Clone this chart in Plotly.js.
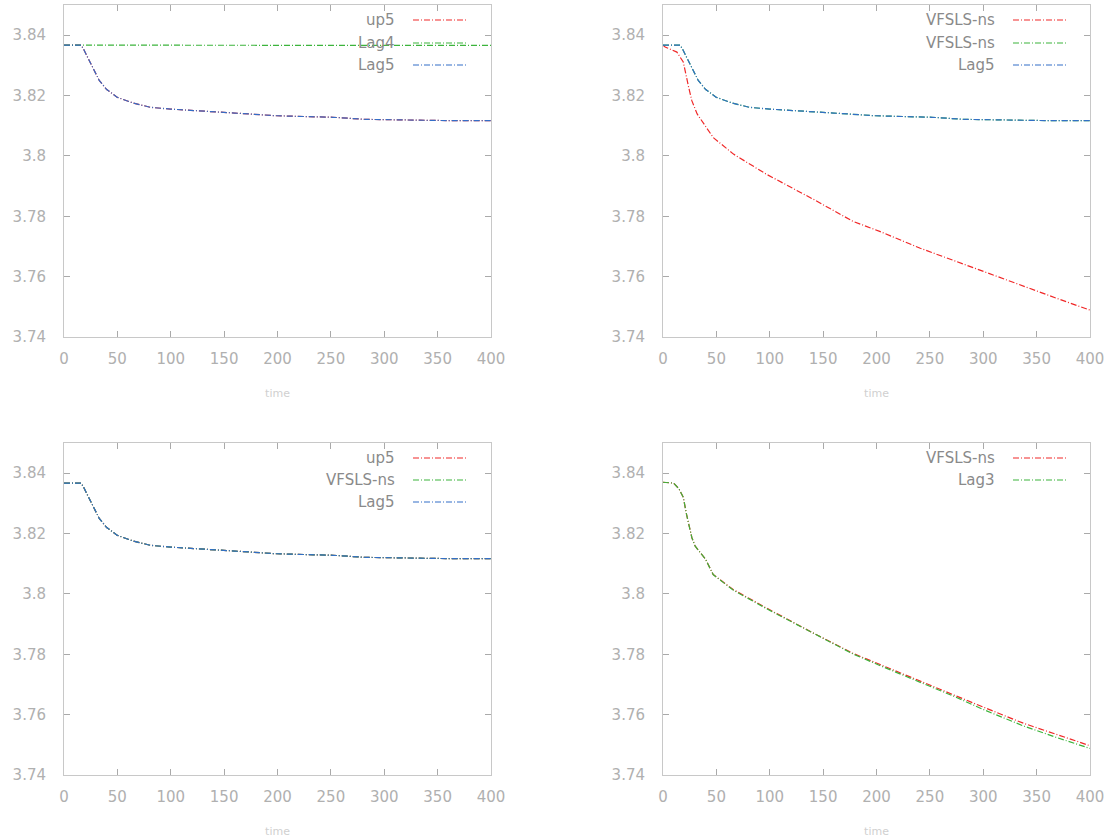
<!DOCTYPE html>
<html>
<head>
<meta charset="utf-8">
<script src="https://cdn.plot.ly/plotly-3.0.1.min.js"></script>
<style>html,body{margin:0;padding:0;background:#fff;}#chart{width:1112px;height:838px;}</style>
</head>
<body>
<div id="chart"></div>
<script>
// ---- data ----
const yTicks = [3.74, 3.76, 3.78, 3.8, 3.82, 3.84];
const yTickLabels = ["3.74", "3.76", "3.78", "3.8", "3.82", "3.84"];
const xTicks = [0, 50, 100, 150, 200, 250, 300, 350, 400];

// slow-converging curve (Lag5 / up5 / second VFSLS-ns)
const tSlow = [0, 16, 18, 23, 28, 33, 40, 50, 65, 81, 100, 128, 160, 199, 230, 252, 283, 320, 360, 400];
const vSlow = [3.8367, 3.8367, 3.8356, 3.8322, 3.8285, 3.825, 3.822, 3.8194, 3.8175, 3.8161, 3.8155, 3.815, 3.8142, 3.8133, 3.8130, 3.8128, 3.8121, 3.8118, 3.8117, 3.8117];

// flat curve in the first panel (Lag4)
const tFlat = [0, 100, 200, 300, 400];
const vFlat = [3.8367, 3.8367, 3.8367, 3.8366, 3.8366];

// fast-descending curve (VFSLS-ns, panel 2)
const tFast = [0, 2, 13, 19, 24, 27, 32, 41, 47, 66, 97, 141, 178, 203, 241, 275, 300, 338, 369, 400];
const vFast = [3.8367, 3.8361, 3.8344, 3.8311, 3.8228, 3.8183, 3.8139, 3.8094, 3.8061, 3.8006, 3.7939, 3.7856, 3.7783, 3.775, 3.7694, 3.765, 3.7617, 3.7567, 3.7528, 3.7489];

// panel 4: VFSLS-ns and Lag3
const tP4 = [0, 10, 15, 19, 22, 27, 30, 40, 47, 66, 97, 141, 178, 203, 241, 275, 300, 338, 369, 400];
const vP4Vfsls = [3.8370, 3.8367, 3.8348, 3.8320, 3.8264, 3.8187, 3.8159, 3.8114, 3.8064, 3.8014, 3.7953, 3.7870, 3.7803, 3.7766, 3.7711, 3.7662, 3.7625, 3.7571, 3.7534, 3.7497];
const vP4Lag3 = [3.8370, 3.8367, 3.8348, 3.8320, 3.8264, 3.8187, 3.8159, 3.8114, 3.8064, 3.8012, 3.7951, 3.7868, 3.7801, 3.7763, 3.7707, 3.7657, 3.7617, 3.7562, 3.7524, 3.7488];

const legendNames = [
  ["up5", "Lag4", "Lag5"],
  ["VFSLS-ns", "VFSLS-ns", "Lag5"],
  ["up5", "VFSLS-ns", "Lag5"],
  ["VFSLS-ns", "Lag3"]
];
const xTitle = "time";

// ---- styles ----
const RED = "rgb(240,40,40)", GREEN = "rgb(60,180,60)", BLUE = "rgb(50,110,200)";
const FONT = "DejaVu Sans, sans-serif";
const lineStyle = c => ({color: c, width: 1.2, dash: "6px,2px,1px,2px"});

function tr(x, y, c, xa, ya, name) {
  return {x: x, y: y, type: "scatter", mode: "lines", line: lineStyle(c), xaxis: xa, yaxis: ya, name: name, showlegend: false};
}

const data = [
  // panel 1
  tr(tSlow, vSlow, RED, "x", "y", legendNames[0][0]),
  tr(tFlat, vFlat, GREEN, "x", "y", legendNames[0][1]),
  tr(tSlow, vSlow, BLUE, "x", "y", legendNames[0][2]),
  // panel 2
  tr(tFast, vFast, RED, "x2", "y2", legendNames[1][0]),
  tr(tSlow, vSlow, GREEN, "x2", "y2", legendNames[1][1]),
  tr(tSlow, vSlow, BLUE, "x2", "y2", legendNames[1][2]),
  // panel 3
  tr(tSlow, vSlow, RED, "x3", "y3", legendNames[2][0]),
  tr(tSlow, vSlow, GREEN, "x3", "y3", legendNames[2][1]),
  tr(tSlow, vSlow, BLUE, "x3", "y3", legendNames[2][2]),
  // panel 4
  tr(tP4, vP4Vfsls, RED, "x4", "y4", legendNames[3][0]),
  tr(tP4, vP4Lag3, GREEN, "x4", "y4", legendNames[3][1])
];

const W = 1112, H = 838;
const px = v => v / W, py = v => 1 - v / H;
const colX = [[64, 491], [663, 1090]];
const rowY = [[5, 337], [443, 775]];

function xaxis(col, anchor) {
  return {
    domain: [px(colX[col][0]), px(colX[col][1])], anchor: anchor,
    range: [0, 400], tickvals: xTicks, ticks: "inside", ticklen: 6, tickcolor: "#aaa",
    showline: true, linecolor: "#c8c8c8", linewidth: 1, mirror: "ticks",
    showgrid: false, zeroline: false, ticklabelstandoff: 8,
    tickfont: {family: FONT, size: 15, color: "#b0b0b0"},
    title: {text: xTitle, font: {family: FONT, size: 11, color: "#d0d0d0"}, standoff: 22}
  };
}
function yaxis(row, anchor) {
  return {
    domain: [py(rowY[row][1]), py(rowY[row][0])], anchor: anchor,
    range: [3.74, 3.85], tickvals: yTicks, ticktext: yTickLabels,
    ticks: "inside", ticklen: 6, tickcolor: "#aaa",
    showline: true, linecolor: "#c8c8c8", linewidth: 1, mirror: "ticks",
    showgrid: false, zeroline: false, ticklabelstandoff: 14,
    tickfont: {family: FONT, size: 15, color: "#b0b0b0"}
  };
}

// gnuplot-style key: text right-aligned, sample line to its right
const annotations = [], shapes = [];
const keyCols = [397, 997];
const keyRows = [[20, 43, 65], [458, 480, 502]];
const colors = [[RED, GREEN, BLUE], [RED, GREEN, BLUE], [RED, GREEN, BLUE], [RED, GREEN]];
legendNames.forEach((names, p) => {
  const col = p % 2, row = Math.floor(p / 2);
  names.forEach((nm, i) => {
    const yy = keyRows[row][i];
    annotations.push({
      xref: "paper", yref: "paper", x: px(keyCols[col]), y: py(yy),
      xanchor: "right", yanchor: "middle", showarrow: false, text: nm,
      font: {family: FONT, size: 15, color: "#8a8a8a"}
    });
    shapes.push({
      type: "line", xref: "paper", yref: "paper",
      x0: px(keyCols[col] + 16), x1: px(keyCols[col] + 70), y0: py(yy), y1: py(yy),
      line: lineStyle(colors[p][i])
    });
  });
});

const layout = {
  width: W, height: H,
  margin: {l: 0, r: 0, t: 0, b: 0},
  paper_bgcolor: "#fff", plot_bgcolor: "#fff",
  showlegend: false,
  font: {family: FONT},
  xaxis: xaxis(0, "y"), yaxis: yaxis(0, "x"),
  xaxis2: xaxis(1, "y2"), yaxis2: yaxis(0, "x2"),
  xaxis3: xaxis(0, "y3"), yaxis3: yaxis(1, "x3"),
  xaxis4: xaxis(1, "y4"), yaxis4: yaxis(1, "x4"),
  annotations: annotations, shapes: shapes
};

Plotly.newPlot("chart", data, layout, {displayModeBar: false, staticPlot: true});
</script>
</body>
</html>
